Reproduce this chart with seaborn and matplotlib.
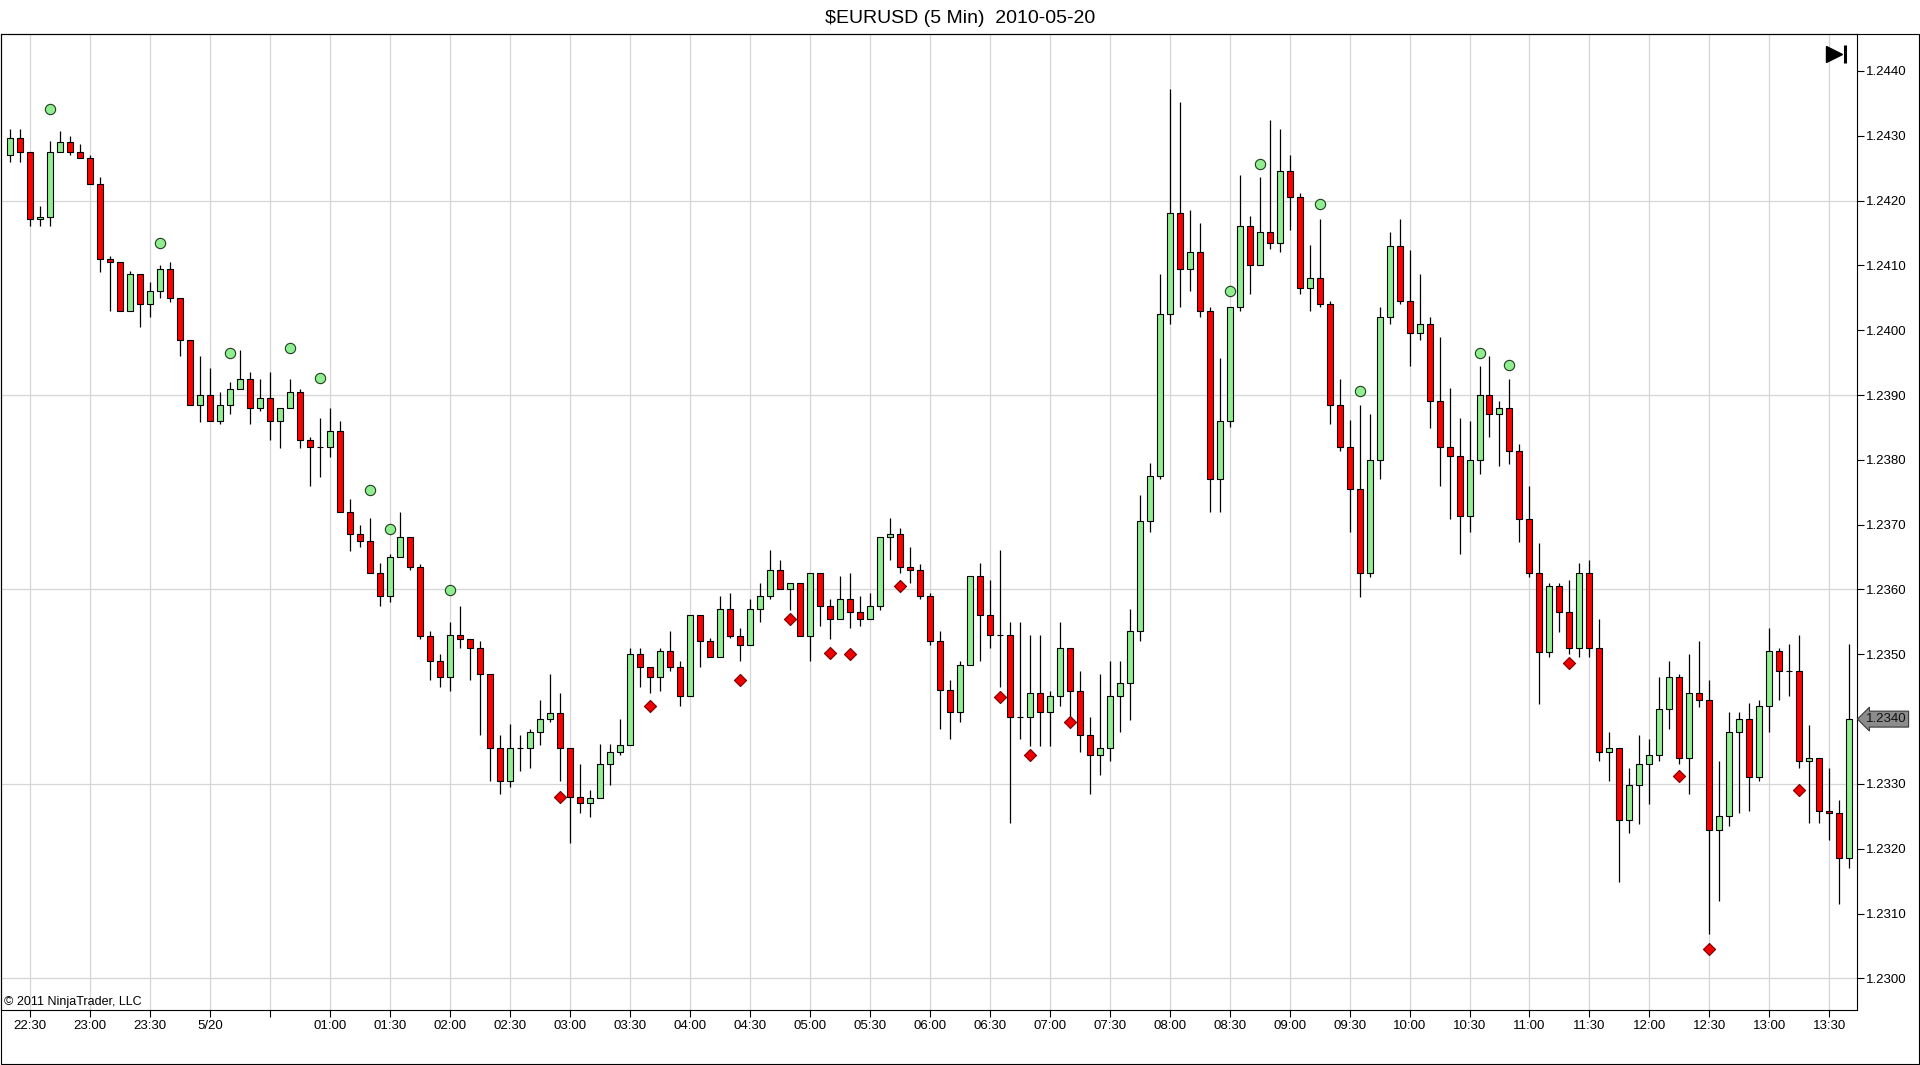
import numpy as np
import pandas as pd
import matplotlib
matplotlib.use("Agg")
import matplotlib.pyplot as plt
import matplotlib.transforms as mtransforms
from matplotlib.patches import Rectangle
import seaborn as sns

# 5-minute EUR/USD bars, 22:20 (5/19) .. 13:40 (5/20)
opens = [
    1.24271, 1.24296, 1.24275, 1.24171, 1.24175, 1.24275, 1.24291, 1.24275, 1.24266, 1.24226,
    1.24110, 1.24106, 1.24030, 1.24086, 1.24041, 1.24061, 1.24095, 1.24050, 1.23985, 1.23885,
    1.23900, 1.23860, 1.23885, 1.23910, 1.23924, 1.23880, 1.23895, 1.23860, 1.23880, 1.23905,
    1.23831, 1.23820, 1.23820, 1.23844, 1.23719, 1.23685, 1.23675, 1.23625, 1.23590, 1.23650,
    1.23681, 1.23634, 1.23529, 1.23489, 1.23465, 1.23530, 1.23524, 1.23509, 1.23469, 1.23355,
    1.23304, 1.23355, 1.23355, 1.23380, 1.23400, 1.23410, 1.23355, 1.23280, 1.23270, 1.23279,
    1.23330, 1.23350, 1.23360, 1.23500, 1.23480, 1.23465, 1.23505, 1.23480, 1.23435, 1.23560,
    1.23520, 1.23496, 1.23570, 1.23529, 1.23515, 1.23570, 1.23590, 1.23630, 1.23600, 1.23610,
    1.23529, 1.23625, 1.23574, 1.23554, 1.23585, 1.23565, 1.23554, 1.23574, 1.23681, 1.23685,
    1.23634, 1.23630, 1.23590, 1.23520, 1.23445, 1.23411, 1.23484, 1.23621, 1.23560, 1.23530,
    1.23530, 1.23404, 1.23404, 1.23440, 1.23411, 1.23435, 1.23509, 1.23444, 1.23375, 1.23345,
    1.23355, 1.23435, 1.23455, 1.23536, 1.23705, 1.23775, 1.24025, 1.24181, 1.24095, 1.24121,
    1.24030, 1.23770, 1.23860, 1.24036, 1.24161, 1.24101, 1.24151, 1.24135, 1.24246, 1.24206,
    1.24065, 1.24080, 1.24041, 1.23885, 1.23820, 1.23755, 1.23625, 1.23799, 1.24021, 1.24130,
    1.24045, 1.23996, 1.24010, 1.23891, 1.23820, 1.23806, 1.23714, 1.23799, 1.23900, 1.23870,
    1.23880, 1.23814, 1.23709, 1.23625, 1.23504, 1.23605, 1.23565, 1.23509, 1.23625, 1.23509,
    1.23350, 1.23355, 1.23245, 1.23299, 1.23330, 1.23344, 1.23415, 1.23465, 1.23340, 1.23440,
    1.23430, 1.23229, 1.23250, 1.23380, 1.23400, 1.23310, 1.23420, 1.23505, 1.23475, 1.23475,
    1.23335, 1.23340, 1.23259, 1.23255, 1.23185,
]
highs = [
    1.24311, 1.24311, 1.24275, 1.24191, 1.24292, 1.24307, 1.24300, 1.24287, 1.24271, 1.24236,
    1.24115, 1.24106, 1.24091, 1.24086, 1.24075, 1.24101, 1.24106, 1.24050, 1.23985, 1.23960,
    1.23941, 1.23905, 1.23920, 1.23970, 1.23936, 1.23925, 1.23936, 1.23880, 1.23925, 1.23910,
    1.23835, 1.23865, 1.23880, 1.23860, 1.23740, 1.23699, 1.23711, 1.23641, 1.23655, 1.23720,
    1.23681, 1.23640, 1.23536, 1.23501, 1.23550, 1.23574, 1.23524, 1.23520, 1.23469, 1.23375,
    1.23392, 1.23375, 1.23385, 1.23430, 1.23470, 1.23440, 1.23355, 1.23331, 1.23290, 1.23361,
    1.23361, 1.23400, 1.23510, 1.23510, 1.23480, 1.23510, 1.23536, 1.23489, 1.23560, 1.23560,
    1.23525, 1.23590, 1.23595, 1.23541, 1.23586, 1.23610, 1.23661, 1.23645, 1.23610, 1.23610,
    1.23625, 1.23625, 1.23585, 1.23621, 1.23625, 1.23590, 1.23595, 1.23681, 1.23711, 1.23695,
    1.23666, 1.23640, 1.23595, 1.23536, 1.23460, 1.23489, 1.23621, 1.23641, 1.23615, 1.23661,
    1.23550, 1.23550, 1.23530, 1.23530, 1.23444, 1.23550, 1.23509, 1.23475, 1.23404, 1.23470,
    1.23489, 1.23489, 1.23570, 1.23745, 1.23795, 1.24086, 1.24372, 1.24352, 1.24186, 1.24166,
    1.24036, 1.23957, 1.24036, 1.24240, 1.24176, 1.24236, 1.24325, 1.24311, 1.24271, 1.24211,
    1.24131, 1.24171, 1.24045, 1.23925, 1.23861, 1.23885, 1.23870, 1.24036, 1.24151, 1.24171,
    1.24123, 1.24086, 1.24021, 1.23990, 1.23911, 1.23864, 1.23860, 1.23945, 1.23960, 1.23891,
    1.23925, 1.23825, 1.23760, 1.23671, 1.23610, 1.23610, 1.23615, 1.23641, 1.23646, 1.23555,
    1.23380, 1.23355, 1.23325, 1.23376, 1.23370, 1.23465, 1.23489, 1.23470, 1.23501, 1.23520,
    1.23461, 1.23336, 1.23411, 1.23411, 1.23425, 1.23430, 1.23541, 1.23510, 1.23516, 1.23530,
    1.23391, 1.23340, 1.23324, 1.23275, 1.23516,
]
lows = [
    1.24260, 1.24260, 1.24161, 1.24161, 1.24161, 1.24275, 1.24270, 1.24266, 1.24226, 1.24090,
    1.24029, 1.24030, 1.24030, 1.24005, 1.24020, 1.24050, 1.24044, 1.23960, 1.23885, 1.23859,
    1.23860, 1.23855, 1.23870, 1.23910, 1.23855, 1.23875, 1.23830, 1.23819, 1.23880, 1.23819,
    1.23759, 1.23774, 1.23805, 1.23719, 1.23660, 1.23665, 1.23625, 1.23574, 1.23580, 1.23650,
    1.23630, 1.23524, 1.23460, 1.23449, 1.23444, 1.23509, 1.23460, 1.23375, 1.23304, 1.23285,
    1.23295, 1.23320, 1.23324, 1.23360, 1.23395, 1.23304, 1.23209, 1.23255, 1.23249, 1.23279,
    1.23299, 1.23344, 1.23360, 1.23449, 1.23440, 1.23444, 1.23475, 1.23420, 1.23435, 1.23480,
    1.23496, 1.23496, 1.23525, 1.23489, 1.23515, 1.23550, 1.23585, 1.23600, 1.23569, 1.23529,
    1.23489, 1.23544, 1.23524, 1.23554, 1.23540, 1.23544, 1.23554, 1.23569, 1.23645, 1.23625,
    1.23610, 1.23585, 1.23515, 1.23384, 1.23370, 1.23395, 1.23484, 1.23489, 1.23509, 1.23449,
    1.23239, 1.23369, 1.23359, 1.23359, 1.23359, 1.23420, 1.23400, 1.23350, 1.23285, 1.23314,
    1.23335, 1.23380, 1.23399, 1.23520, 1.23689, 1.23770, 1.24009, 1.24036, 1.24061, 1.24020,
    1.23719, 1.23719, 1.23850, 1.24030, 1.24056, 1.24101, 1.24126, 1.24121, 1.24155, 1.24056,
    1.24030, 1.24036, 1.23855, 1.23814, 1.23689, 1.23589, 1.23620, 1.23770, 1.24009, 1.24040,
    1.23945, 1.23985, 1.23849, 1.23759, 1.23709, 1.23654, 1.23689, 1.23778, 1.23835, 1.23790,
    1.23794, 1.23674, 1.23620, 1.23424, 1.23496, 1.23535, 1.23500, 1.23496, 1.23496, 1.23335,
    1.23304, 1.23149, 1.23224, 1.23238, 1.23269, 1.23335, 1.23384, 1.23330, 1.23285, 1.23419,
    1.23069, 1.23120, 1.23235, 1.23255, 1.23259, 1.23304, 1.23380, 1.23429, 1.23435, 1.23324,
    1.23239, 1.23239, 1.23214, 1.23115, 1.23170,
]
closes = [
    1.24296, 1.24275, 1.24171, 1.24175, 1.24275, 1.24291, 1.24275, 1.24266, 1.24226, 1.24110,
    1.24106, 1.24030, 1.24086, 1.24041, 1.24061, 1.24095, 1.24050, 1.23985, 1.23885, 1.23900,
    1.23860, 1.23885, 1.23910, 1.23924, 1.23880, 1.23895, 1.23860, 1.23880, 1.23905, 1.23831,
    1.23820, 1.23820, 1.23844, 1.23719, 1.23685, 1.23675, 1.23625, 1.23590, 1.23650, 1.23681,
    1.23634, 1.23529, 1.23489, 1.23465, 1.23530, 1.23524, 1.23509, 1.23469, 1.23355, 1.23304,
    1.23355, 1.23355, 1.23380, 1.23400, 1.23410, 1.23355, 1.23280, 1.23270, 1.23279, 1.23330,
    1.23350, 1.23360, 1.23500, 1.23480, 1.23465, 1.23505, 1.23480, 1.23435, 1.23560, 1.23520,
    1.23496, 1.23570, 1.23529, 1.23515, 1.23570, 1.23590, 1.23630, 1.23600, 1.23610, 1.23529,
    1.23625, 1.23574, 1.23554, 1.23585, 1.23565, 1.23554, 1.23574, 1.23681, 1.23685, 1.23634,
    1.23630, 1.23590, 1.23520, 1.23445, 1.23411, 1.23484, 1.23621, 1.23560, 1.23530, 1.23530,
    1.23404, 1.23404, 1.23440, 1.23411, 1.23435, 1.23509, 1.23444, 1.23375, 1.23345, 1.23355,
    1.23435, 1.23455, 1.23536, 1.23705, 1.23775, 1.24025, 1.24181, 1.24095, 1.24121, 1.24030,
    1.23770, 1.23860, 1.24036, 1.24161, 1.24101, 1.24151, 1.24135, 1.24246, 1.24206, 1.24065,
    1.24080, 1.24041, 1.23885, 1.23820, 1.23755, 1.23625, 1.23799, 1.24021, 1.24130, 1.24045,
    1.23996, 1.24010, 1.23891, 1.23820, 1.23806, 1.23714, 1.23799, 1.23900, 1.23870, 1.23880,
    1.23814, 1.23709, 1.23625, 1.23504, 1.23605, 1.23565, 1.23509, 1.23625, 1.23509, 1.23350,
    1.23355, 1.23245, 1.23299, 1.23330, 1.23344, 1.23415, 1.23465, 1.23340, 1.23440, 1.23430,
    1.23229, 1.23250, 1.23380, 1.23400, 1.23310, 1.23420, 1.23505, 1.23475, 1.23475, 1.23335,
    1.23340, 1.23259, 1.23255, 1.23185, 1.23400,
]

# indicator markers (bar index, price)
up_dot_bars = [4, 15, 22, 28, 31, 36, 38, 44, 122, 125, 131, 135, 147, 150]
up_dot_prices = [1.24342, 1.24134, 1.23965, 1.23973, 1.23926, 1.23753, 1.23693,
                 1.23599, 1.24061, 1.24257, 1.24195, 1.23906, 1.23965, 1.23947]
down_dot_bars = [55, 64, 73, 78, 82, 84, 89, 99, 102, 106, 156, 167, 170, 179]
down_dot_prices = [1.23280, 1.23420, 1.23460, 1.23554, 1.23502, 1.23501, 1.23605,
                   1.23434, 1.23344, 1.23395, 1.23487, 1.23312, 1.23045, 1.23290]

time_labels = ["22:30", "23:00", "23:30", "5/20", "", "01:00", "01:30", "02:00",
               "02:30", "03:00", "03:30", "04:00", "04:30", "05:00", "05:30", "06:00",
               "06:30", "07:00", "07:30", "08:00", "08:30", "09:00", "09:30", "10:00",
               "10:30", "11:00", "11:30", "12:00", "12:30", "13:00", "13:30"]
price_ticks = [1.2300, 1.2310, 1.2320, 1.2330, 1.2340, 1.2350, 1.2360, 1.2370,
               1.2380, 1.2390, 1.2400, 1.2410, 1.2420, 1.2430, 1.2440]
grid_prices = [1.2300, 1.2330, 1.2360, 1.2390, 1.2420]
last_price = 1.2340

sns.set_style("white")
plt.rcParams["font.family"] = ["Liberation Sans", "DejaVu Sans"]

df = pd.DataFrame({"open": opens, "high": highs, "low": lows, "close": closes})
df["bar"] = np.arange(len(df))
rising = df["close"] >= df["open"]

W, H = 1920, 1065
fig = plt.figure(figsize=(W / 100, H / 100), dpi=100, facecolor="white")
ax = fig.add_axes([1 / W, 1 - 1009.5 / H, 1856 / W, (1009.5 - 34) / H])

tick_bars = np.arange(2, 183, 6)
for x in tick_bars:
    ax.axvline(x, color="#d6d6d6", lw=0.9, zorder=0)
for p in grid_prices:
    ax.axhline(p, color="#d6d6d6", lw=0.9, zorder=0)

# candles
ax.vlines(df["bar"], df["low"], df["high"], color="black", lw=0.9, zorder=2)
up = df[rising]
dn = df[~rising]
ax.bar(up["bar"], up["close"] - up["open"], bottom=up["open"], width=0.6,
       color="#90ee90", edgecolor="black", linewidth=0.8, zorder=3)
ax.bar(dn["bar"], dn["open"] - dn["close"], bottom=dn["close"], width=0.6,
       color="#ff0000", edgecolor="black", linewidth=0.8, zorder=3)

sns.scatterplot(x=up_dot_bars, y=up_dot_prices, marker="o", s=55, color="#90ee90",
                edgecolor="#1e3d1e", linewidth=0.8, ax=ax, zorder=4, legend=False)
sns.scatterplot(x=down_dot_bars, y=down_dot_prices, marker="D", s=38, color="#ee0000",
                edgecolor="#7a0000", linewidth=0.8, ax=ax, zorder=4, legend=False)

ax.set_xlim(-0.93, 184.77)
ax.set_ylim(1.22952, 1.24457)

ax.set_xticks(tick_bars)
ax.set_xticklabels(time_labels)
ax.yaxis.tick_right()
ax.set_yticks(price_ticks)
ax.set_yticklabels([f"{p:.4f}" for p in price_ticks])
ax.tick_params(axis="x", direction="out", length=5, width=0.8, pad=2.5,
               labelsize=9.5, colors="black", bottom=True)
ax.tick_params(axis="y", direction="out", length=5, width=0.8, pad=1.5,
               labelsize=9.5, colors="black", right=True, left=False)
for s in ax.spines.values():
    s.set_color("black")
    s.set_linewidth(0.8)
    s.set_visible(True)
ax.set_xlabel("")
ax.set_ylabel("")

# last price marker on the price axis
trans = mtransforms.blended_transform_factory(ax.transAxes, ax.transData)
ax.text(1 + 9 / 1856, last_price, f"{last_price:.4f}", transform=trans,
        ha="left", va="center", fontsize=9.5, color="#111111", zorder=10, clip_on=False,
        bbox=dict(boxstyle="larrow,pad=0.15", fc="#8c8c8c", ec="#3a3a3a", lw=0.8))

# "go to end" icon
ax.plot([0.9876], [0.9795], marker=">", ms=12, color="black",
        transform=ax.transAxes, clip_on=False, zorder=10)
ax.plot([0.9934, 0.9934], [0.9703, 0.9887], color="black", lw=2.2,
        transform=ax.transAxes, clip_on=False, zorder=10, solid_capstyle="butt")

ax.text(0.0015, 0.0045, "\u00a9 2011 NinjaTrader, LLC", transform=ax.transAxes,
        ha="left", va="baseline", fontsize=9, color="black")

fig.add_artist(Rectangle((0.5 / W, 1.5 / H), 1918 / W, 1029.5 / H,
                         transform=fig.transFigure, fill=False, ec="black", lw=0.8))
fig.text(0.5, 1 - 18.5 / H, r"\$EURUSD (5 Min)  2010-05-20", ha="center",
         va="center", fontsize=14, color="black")

fig.savefig("out.png", dpi=100, facecolor="white")
